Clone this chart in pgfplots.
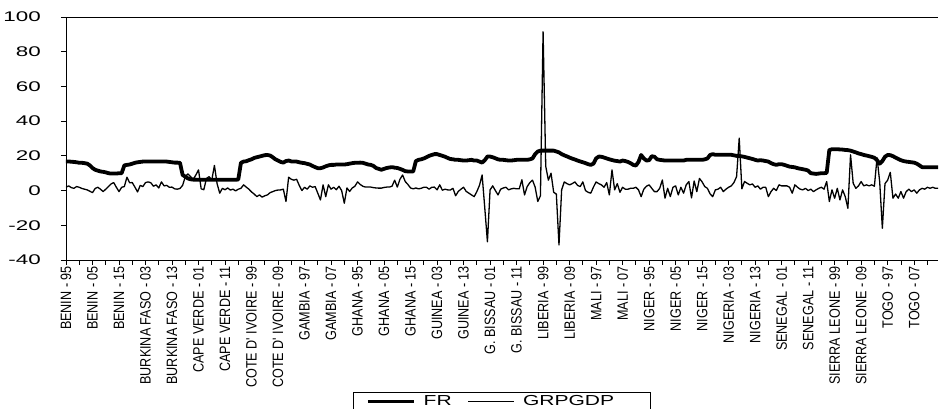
\documentclass[border=0pt]{standalone}
\usepackage{fontspec}
\usepackage{pgfplots}
\usepackage{pgfplotstable}
\pgfplotsset{compat=1.18}
\setmainfont{Liberation Sans}
% tick and legend faces: wide numerals, narrow category names
\newfontfamily\ylabfont[FakeStretch=1.6, Scale=1.4]{Liberation Sans}
\newfontfamily\xlabfont[FakeStretch=0.84, Scale=1.5]{Liberation Sans}
\newfontfamily\legfont[FakeStretch=1.45, Scale=1.45]{Liberation Sans}

% FR, 22 yearly observations (1995-2016) per country
\pgfplotstableread[row sep=\\]{
FR\\
16.8\\16.8\\16.6\\16.5\\16.3\\16.0\\16.0\\15.8\\15.5\\14.5\\13.0\\12.0\\11.5\\11.0\\10.8\\10.5\\10.0\\9.8\\9.8\\9.8\\10.0\\10.0\\ % Benin
14.5\\14.8\\15.0\\15.5\\16.0\\16.3\\16.5\\16.7\\16.7\\16.7\\16.7\\16.7\\16.7\\16.7\\16.7\\16.7\\16.7\\16.5\\16.3\\16.1\\16.1\\16.0\\ % Burkina Faso
9.0\\8.0\\7.0\\6.5\\6.3\\6.3\\6.2\\6.2\\6.2\\6.2\\6.2\\6.2\\6.2\\6.2\\6.2\\6.2\\6.2\\6.2\\6.2\\6.2\\6.2\\6.4\\ % Cape Verde
16.0\\16.7\\16.9\\17.5\\18.0\\18.8\\19.2\\19.6\\20.0\\20.4\\20.5\\20.2\\19.2\\18.0\\17.3\\16.5\\16.1\\17.0\\17.3\\16.8\\16.7\\16.7\\ % Cote d'Ivoire
16.3\\16.0\\15.8\\15.4\\15.0\\14.2\\13.5\\12.9\\12.9\\13.3\\14.0\\14.5\\14.8\\14.8\\15.0\\15.0\\15.0\\15.0\\15.2\\15.5\\15.8\\16.0\\ % Gambia
16.0\\16.1\\16.0\\15.5\\15.0\\14.8\\14.2\\13.0\\12.5\\12.0\\12.5\\13.0\\13.3\\13.5\\13.2\\13.0\\12.5\\11.9\\11.2\\11.0\\11.0\\11.0\\ % Ghana
17.0\\17.7\\18.0\\18.5\\19.2\\20.0\\20.5\\21.0\\21.0\\20.5\\20.0\\19.5\\18.8\\18.2\\18.0\\17.7\\17.7\\17.5\\17.3\\17.3\\17.5\\17.7\\ % Guinea
17.3\\17.3\\16.7\\16.1\\17.5\\19.6\\19.6\\19.2\\18.6\\18.0\\17.7\\17.7\\17.5\\17.3\\17.3\\17.5\\17.7\\17.7\\17.7\\17.7\\17.7\\18.0\\ % Guinea-Bissau
18.5\\21.0\\22.5\\23.0\\23.0\\23.0\\23.0\\23.0\\23.0\\22.5\\22.0\\21.0\\20.3\\19.7\\19.0\\18.4\\17.9\\17.3\\16.8\\16.3\\15.8\\15.2\\ % Liberia
14.8\\15.5\\18.5\\19.6\\19.5\\19.0\\18.5\\18.0\\17.6\\17.2\\17.0\\16.7\\17.3\\17.0\\16.5\\15.8\\14.8\\14.4\\16.5\\20.5\\18.5\\17.3\\ % Mali
17.5\\19.8\\19.5\\18.0\\17.7\\17.5\\17.3\\17.3\\17.3\\17.3\\17.3\\17.3\\17.3\\17.3\\17.7\\17.7\\17.7\\17.7\\17.7\\17.7\\17.7\\18.0\\ % Niger
18.5\\20.5\\21.0\\20.6\\20.6\\20.6\\20.6\\20.6\\20.6\\20.6\\20.3\\20.0\\19.9\\19.7\\19.4\\19.0\\18.6\\18.2\\17.7\\17.3\\17.5\\17.3\\ % Nigeria
17.0\\16.7\\15.8\\15.2\\14.8\\15.2\\15.2\\14.8\\14.3\\13.8\\13.6\\13.4\\12.9\\12.6\\12.3\\12.0\\11.5\\10.0\\9.8\\9.6\\9.8\\10.0\\ % Senegal
10.0\\10.2\\23.4\\23.8\\23.8\\23.8\\23.7\\23.6\\23.4\\23.3\\23.0\\22.5\\22.0\\21.4\\21.0\\20.5\\20.2\\19.8\\19.4\\18.9\\17.5\\15.5\\ % Sierra Leone
17.0\\19.5\\20.5\\20.4\\19.8\\19.0\\18.2\\17.5\\17.0\\16.7\\16.5\\16.3\\16.1\\15.5\\14.5\\13.5\\13.4\\13.4\\13.4\\13.4\\13.4\\13.4\\ % Togo
}\frtable

% GRPGDP, same ordering
\pgfplotstableread[row sep=\\]{
GRP\\
1.9\\2.7\\1.7\\1.3\\2.3\\1.9\\1.2\\0.8\\0.4\\-0.4\\-1.2\\1.2\\1.9\\0.8\\-0.6\\0.8\\2.3\\3.8\\4.6\\1.9\\-0.6\\1.9\\ % Benin
2.3\\7.7\\4.5\\4.6\\2.0\\-0.8\\3.0\\2.3\\4.6\\5.0\\4.5\\2.5\\3.3\\1.5\\5.0\\2.7\\3.0\\1.9\\2.0\\1.0\\0.8\\1.2\\ % Burkina Faso
3.0\\8.0\\9.6\\8.0\\6.5\\9.0\\11.9\\1.0\\0.5\\7.0\\8.0\\6.0\\14.5\\4.0\\-1.5\\1.3\\0.5\\1.5\\0.3\\0.8\\-0.2\\0.8\\ % Cape Verde
1.3\\3.3\\2.0\\0.8\\-0.8\\-2.0\\-3.5\\-2.5\\-3.8\\-3.0\\-2.5\\-1.2\\-0.6\\0.0\\0.3\\0.4\\0.8\\-6.3\\7.7\\6.5\\6.0\\6.5\\ % Cote d'Ivoire
3.0\\0.0\\1.9\\0.8\\2.7\\1.9\\2.3\\-1.5\\-5.4\\3.3\\-3.5\\3.3\\0.8\\1.9\\0.5\\2.5\\0.0\\-7.3\\1.5\\-0.5\\1.5\\2.5\\ % Gambia
5.0\\3.5\\2.5\\2.0\\2.0\\2.0\\1.7\\1.5\\1.4\\1.4\\1.8\\2.0\\2.0\\2.5\\6.0\\2.0\\6.5\\9.0\\5.2\\3.5\\1.5\\1.0\\ % Ghana
1.5\\1.0\\1.3\\1.9\\1.9\\0.8\\1.9\\2.0\\0.4\\3.3\\0.2\\0.8\\0.4\\0.3\\1.3\\-3.0\\-0.5\\0.8\\1.9\\-0.5\\-1.5\\-2.5\\ % Guinea
-3.5\\-0.6\\3.0\\9.0\\-10.0\\-29.5\\0.4\\2.7\\0.0\\-2.5\\0.8\\1.5\\1.9\\0.4\\1.0\\1.3\\1.0\\1.0\\6.2\\-2.5\\2.3\\4.6\\ % Guinea-Bissau
6.0\\2.0\\-6.3\\-3.0\\91.5\\14.0\\6.0\\10.0\\-1.0\\-2.0\\-31.3\\0.4\\5.0\\4.0\\3.3\\4.0\\5.0\\3.0\\2.3\\5.0\\0.0\\-1.0\\ % Liberia
-1.5\\2.0\\5.0\\4.0\\3.3\\1.9\\4.6\\-2.5\\11.9\\0.4\\4.0\\-1.0\\1.9\\0.8\\0.8\\1.3\\1.3\\1.9\\0.4\\-3.5\\0.8\\2.5\\ % Mali
3.3\\1.3\\-0.6\\-0.6\\1.3\\6.1\\-4.4\\1.3\\-3.5\\1.9\\2.7\\-2.5\\1.9\\-1.5\\3.3\\5.2\\-4.2\\5.5\\-0.6\\7.0\\5.0\\2.3\\ % Niger
1.3\\-1.9\\-3.5\\0.4\\0.8\\1.9\\-0.6\\0.8\\1.9\\2.7\\4.6\\8.0\\30.2\\1.0\\5.2\\4.2\\3.3\\3.8\\1.9\\2.7\\0.8\\1.9\\ % Nigeria
1.9\\-3.5\\-0.6\\1.3\\0.0\\3.3\\2.7\\2.7\\2.7\\1.9\\-1.5\\3.3\\1.9\\0.8\\0.4\\1.3\\0.0\\0.8\\-0.6\\0.4\\1.3\\1.9\\ % Senegal
0.8\\5.2\\-6.3\\0.4\\-4.4\\1.3\\-5.4\\0.4\\-3.5\\-10.2\\20.6\\4.2\\1.3\\2.7\\5.2\\2.7\\3.3\\2.7\\3.3\\2.5\\19.0\\5.0\\ % Sierra Leone
-21.7\\4.0\\6.0\\10.5\\-4.4\\-2.0\\-4.4\\-0.6\\-4.4\\-0.6\\0.8\\-0.6\\0.4\\-1.5\\0.4\\1.3\\0.8\\1.9\\1.3\\1.9\\1.3\\1.3\\ % Togo
}\grptable

\begin{document}
\begin{tikzpicture}
\useasboundingbox (0pt,0pt) rectangle (939pt,409pt);
\begin{axis}[
  at={(66pt,149pt)}, anchor=south west,
  scale only axis, width=872pt, height=243pt,
  xmin=0, xmax=329, ymin=-40, ymax=100,
  axis x line*=box, axis y line*=left,
  axis line style={-, line width=0.9pt, black},
  tick align=outside,
  xtick pos=left, ytick pos=left,
  major tick length=5pt, minor tick length=5pt,
  every tick/.style={black, line width=0.8pt},
  xtick={0,10,...,320},
  minor xtick={5,15,...,325},
  xticklabels={BENIN - 95,BENIN - 05,BENIN - 15,BURKINA FASO - 03,BURKINA FASO - 13,
    CAPE VERDE - 01,CAPE VERDE - 11,COTE D' IVOIRE - 99,COTE D' IVOIRE - 09,
    GAMBIA - 97,GAMBIA - 07,GHANA - 95,GHANA - 05,GHANA - 15,GUINEA - 03,GUINEA - 13,
    G. BISSAU - 01,G. BISSAU - 11,LIBERIA - 99,LIBERIA - 09,MALI - 97,MALI - 07,
    NIGER - 95,NIGER - 05,NIGER - 15,NIGERIA - 03,NIGERIA - 13,SENEGAL - 01,SENEGAL - 11,
    SIERRA LEONE - 99,SIERRA LEONE - 09,TOGO - 97,TOGO - 07},
  xticklabel style={rotate=90, anchor=east, inner sep=1pt, font=\xlabfont},
  ytick={-40,-20,0,20,40,60,80,100},
  yticklabels={-40,-20,0,20,40,60,80,100},
  yticklabel style={anchor=east, inner sep=0pt, xshift=-20pt, font=\ylabfont},
  legend columns=2,
  legend image code/.code={\draw[#1] (0pt,0pt) -- (46pt,0pt);},
  legend style={at={(0.5,-0.542)}, anchor=north, draw=black, line width=0.8pt,
    inner xsep=12pt, inner ysep=1.5pt, font=\legfont,
    /tikz/every odd column/.append style={column sep=6pt},
    /tikz/every even column/.append style={column sep=14pt}},
]
\addplot[black, line width=3.8pt, line join=round] table[x expr=\coordindex, y=FR] {\frtable};
\addlegendentry{FR}
\addplot[black, line width=1.3pt, line join=round] table[x expr=\coordindex, y=GRP] {\grptable};
\addlegendentry{GRPGDP\hspace*{22pt}}
\end{axis}
\end{tikzpicture}
\end{document}
